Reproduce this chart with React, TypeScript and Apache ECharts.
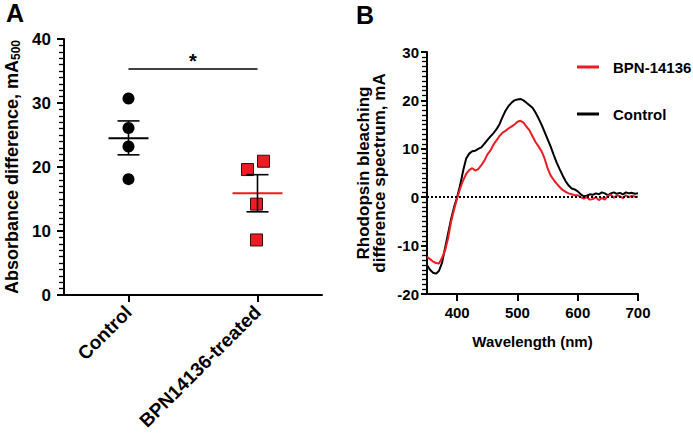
import React, { useEffect, useRef } from "react";
import * as echarts from "echarts";

const FONT = "'Liberation Sans', Arial, Helvetica, sans-serif";
const RED = "#ed1c24";

// Panel A data
const groups = ["Control", "BPN14136-treated"];
const controlVals = [30.7, 26.1, 23.2, 18.1];
const bpnVals = [19.6, 20.9, 14.2, 8.6];
const groupMeans = [24.5, 15.9];
const groupSemLow = [21.9, 13.0];
const groupSemHigh = [27.2, 18.8];
const sigLevel = 35.3;
const sigLabel = "*";

// Panel B data
const wavelengths = [
  350, 355, 360, 365, 370, 375, 380, 385, 390, 395, 400, 405, 410, 415, 420, 425, 430, 435, 440, 445,
  450, 455, 460, 465, 470, 475, 480, 485, 490, 495, 500, 505, 510, 515, 520, 525, 530, 535, 540, 545,
  550, 555, 560, 565, 570, 575, 580, 585, 590, 595, 600, 605, 610, 615, 620, 625, 630, 635, 640, 645,
  650, 655, 660, 665, 670, 675, 680, 685, 690, 695, 700,
];
const controlSpectrum = [
  -14.0, -15.0, -15.6, -15.8, -15.2, -13.5, -10.5, -7.5, -4.5, -2.0, 0.0, 2.5, 5.5, 8.0, 9.0, 9.5, 9.6, 10.0, 10.3, 11.0,
  11.8, 12.5, 13.2, 14.0, 15.0, 16.5, 17.8, 18.8, 19.5, 20.0, 20.2, 20.3, 20.0, 19.5, 19.0, 18.5, 17.5, 16.3, 15.0, 13.5,
  12.0, 10.5, 8.8, 7.2, 5.8, 4.5, 3.3, 2.4, 1.8, 1.6, 1.2, 0.6, 0.2, 0.3, 0.6, 0.5, 0.8, 0.6, 1.0, 0.8,
  0.4, 0.8, 1.0, 0.7, 0.9, 0.6, 1.0, 0.8, 0.9, 0.7, 0.8,
];
const bpnSpectrum = [
  -12.3, -12.8, -13.3, -13.6, -13.7, -12.5, -11.0, -8.5, -5.0, -2.5, -0.2, 1.8, 3.5, 4.8, 5.6, 6.0, 5.5, 5.8, 6.6, 7.5,
  8.8, 9.6, 10.8, 11.7, 12.6, 13.3, 13.7, 14.2, 14.6, 15.0, 15.6, 15.8, 15.4, 14.6, 13.8, 12.6, 11.4, 10.5, 9.5, 8.0,
  6.0, 4.5, 3.6, 2.8, 2.1, 1.5, 1.1, 0.8, 0.6, 0.4, 0.4, 0.0, -0.3, 0.0, -0.5, -0.4, 0.0, -0.6, -0.2, -0.5,
  0.3, 0.5, -0.1, 0.4, 0.2, -0.2, 0.4, 0.0, 0.3, 0.1, 0.1,
];
const seriesNames = ["BPN-14136", "Control"];
const xTicksB = [400, 500, 600, 700];

// styling only
const bpnJitterPx = [-10, 6, -1, -1];
const meanColors = ["#000", RED];
const meanHalfWidth = [20, 25];

export default function App() {
  const ref = useRef<HTMLDivElement>(null);
  useEffect(() => {
    if (!ref.current) return;
    const chart = echarts.init(ref.current, undefined, { renderer: "svg" });
    const minorTick = { show: true, splitNumber: 10, length: 5, lineStyle: { color: "#000", width: 1.3 } };
    const option: any = {
      animation: false,
      backgroundColor: "#fff",
      textStyle: { fontFamily: FONT },
      graphic: [
        { type: "text", left: 6, top: 0, style: { text: "A", fontSize: 25, fontWeight: "bold", fontFamily: FONT, fill: "#000" } },
        { type: "text", left: 356, top: 2, style: { text: "B", fontSize: 25, fontWeight: "bold", fontFamily: FONT, fill: "#000" } },
      ],
      legend: {
        data: seriesNames,
        orient: "vertical",
        left: 577,
        top: 58,
        padding: 0,
        icon: "rect",
        itemWidth: 22,
        itemHeight: 3,
        itemGap: 29,
        textStyle: { fontSize: 15, lineHeight: 18, fontWeight: "bold", fontFamily: FONT, color: "#000", padding: [0, 0, 0, 9] },
      },
      grid: [
        { left: 64, top: 39, width: 258, height: 256 },
        { left: 427, top: 52, width: 211, height: 242 },
      ],
      xAxis: [
        {
          type: "category",
          gridIndex: 0,
          data: groups,
          boundaryGap: true,
          axisLine: { onZero: false, lineStyle: { color: "#000", width: 2 } },
          axisTick: { show: true, alignWithLabel: true, length: 7, lineStyle: { color: "#000", width: 2 } },
          axisLabel: { interval: 0, rotate: 45, margin: 14, fontSize: 19, fontWeight: "bold", color: "#000", fontFamily: FONT },
        },
        {
          type: "value",
          gridIndex: 1,
          min: 350,
          max: 700,
          interval: 50,
          name: "Wavelength (nm)",
          nameLocation: "middle",
          nameGap: 40,
          nameTextStyle: { fontSize: 15, fontWeight: "bold", color: "#000", fontFamily: FONT },
          axisLine: { onZero: false, lineStyle: { color: "#000", width: 2 } },
          axisTick: { show: true, customValues: xTicksB, length: 7, lineStyle: { color: "#000", width: 2 } },
          axisLabel: {
            customValues: xTicksB,
            margin: 11,
            fontSize: 15,
            fontWeight: "bold",
            color: "#000",
            fontFamily: FONT,
            formatter: (v: number) => (v % 100 === 0 && v >= 400 ? String(v) : ""),
          },
          splitLine: { show: false },
        },
      ],
      yAxis: [
        {
          type: "value",
          gridIndex: 0,
          min: 0,
          max: 40,
          interval: 10,
          name: "{a|Absorbance difference, mA}{s|500}",
          nameLocation: "middle",
          nameRotate: 90,
          nameGap: 42,
          nameTextStyle: {
            rich: {
              a: { fontSize: 18, fontWeight: "bold", color: "#000", fontFamily: FONT },
              s: { fontSize: 12, fontWeight: "bold", color: "#000", fontFamily: FONT, padding: [8, 0, 0, 0] },
            },
          },
          axisLine: { show: true, onZero: false, lineStyle: { color: "#000", width: 2 } },
          axisTick: { show: true, length: 7, lineStyle: { color: "#000", width: 2 } },
          minorTick,
          splitLine: { show: false },
          minorSplitLine: { show: false },
          axisLabel: { margin: 13, fontSize: 17, fontWeight: "bold", color: "#000", fontFamily: FONT },
        },
        {
          type: "value",
          gridIndex: 1,
          min: -20,
          max: 30,
          interval: 10,
          name: "Rhodopsin bleaching\ndifference spectrum, mA",
          nameLocation: "middle",
          nameRotate: 90,
          nameGap: 40,
          nameTextStyle: { fontSize: 17, lineHeight: 16, fontWeight: "bold", color: "#000", fontFamily: FONT },
          axisLine: { show: true, onZero: false, lineStyle: { color: "#000", width: 2 } },
          axisTick: { show: true, length: 6, lineStyle: { color: "#000", width: 2 } },
          minorTick,
          splitLine: { show: false },
          minorSplitLine: { show: false },
          axisLabel: { margin: 8, fontSize: 15, fontWeight: "bold", color: "#000", fontFamily: FONT },
        },
      ],
      series: [
        {
          type: "scatter",
          name: "ControlPoints",
          xAxisIndex: 0,
          yAxisIndex: 0,
          symbol: "circle",
          symbolSize: 12,
          itemStyle: { color: "#000", opacity: 1 },
          data: controlVals.map((v) => [0, v]),
          z: 3,
        },
        {
          type: "scatter",
          name: "BPNPoints",
          xAxisIndex: 0,
          yAxisIndex: 0,
          symbol: "rect",
          symbolSize: 12,
          itemStyle: { color: RED, borderColor: "#3a0a0a", borderWidth: 1, opacity: 1 },
          data: bpnVals.map((v, i) => ({ value: [1, v], symbolOffset: [bpnJitterPx[i], 0] })),
          z: 3,
        },
        {
          type: "custom",
          name: "meanSem",
          xAxisIndex: 0,
          yAxisIndex: 0,
          encode: { x: 0, y: [1, 2, 3] },
          data: groups.map((_, i) => [i, groupMeans[i], groupSemLow[i], groupSemHigh[i]]),
          z: 4,
          renderItem: (params: any, api: any) => {
            const idx = params.dataIndex;
            const x = api.value(0);
            const pm = api.coord([x, api.value(1)]);
            const plo = api.coord([x, api.value(2)]);
            const phi = api.coord([x, api.value(3)]);
            const cx = pm[0];
            const capW = 11;
            const mw = meanHalfWidth[idx];
            const black = { stroke: "#000", lineWidth: 1.6 };
            return {
              type: "group",
              children: [
                { type: "line", shape: { x1: cx - mw, y1: pm[1], x2: cx + mw, y2: pm[1] }, style: { stroke: meanColors[idx], lineWidth: 2 } },
                { type: "line", shape: { x1: cx, y1: plo[1], x2: cx, y2: phi[1] }, style: black },
                { type: "line", shape: { x1: cx - capW, y1: plo[1], x2: cx + capW, y2: plo[1] }, style: black },
                { type: "line", shape: { x1: cx - capW, y1: phi[1], x2: cx + capW, y2: phi[1] }, style: black },
              ],
            };
          },
        },
        {
          type: "custom",
          name: "significance",
          xAxisIndex: 0,
          yAxisIndex: 0,
          encode: { x: 0, y: 1 },
          data: [[0, sigLevel, 1]],
          z: 4,
          renderItem: (params: any, api: any) => {
            const p1 = api.coord([api.value(0), api.value(1)]);
            const p2 = api.coord([api.value(2), api.value(1)]);
            return {
              type: "group",
              children: [
                { type: "line", shape: { x1: p1[0], y1: p1[1], x2: p2[0], y2: p2[1] }, style: { stroke: "#000", lineWidth: 1.5 } },
                {
                  type: "text",
                  x: (p1[0] + p2[0]) / 2,
                  y: p1[1] - 8,
                  style: { text: sigLabel, fontSize: 20, fontWeight: "bold", fontFamily: FONT, fill: "#000", align: "center", verticalAlign: "middle" },
                },
              ],
            };
          },
        },
        {
          type: "line",
          name: "Control",
          xAxisIndex: 1,
          yAxisIndex: 1,
          symbol: "none",
          showSymbol: false,
          color: "#000",
          lineStyle: { color: "#000", width: 2 },
          data: wavelengths.map((w, i) => [w, controlSpectrum[i]]),
          markLine: {
            silent: true,
            symbol: ["none", "none"],
            label: { show: false },
            lineStyle: { type: "dotted", color: "#000", width: 2 },
            data: [{ yAxis: 0 }],
          },
          z: 2,
        },
        {
          type: "line",
          name: "BPN-14136",
          xAxisIndex: 1,
          yAxisIndex: 1,
          symbol: "none",
          showSymbol: false,
          color: RED,
          lineStyle: { color: RED, width: 2 },
          data: wavelengths.map((w, i) => [w, bpnSpectrum[i]]),
          z: 3,
        },
      ],
    };
    chart.setOption(option);
    return () => chart.dispose();
  }, []);
  return (
    <div
      ref={ref}
      style={{ position: "fixed", left: 0, top: 0, width: 693, height: 436, background: "#fff" }}
    />
  );
}
